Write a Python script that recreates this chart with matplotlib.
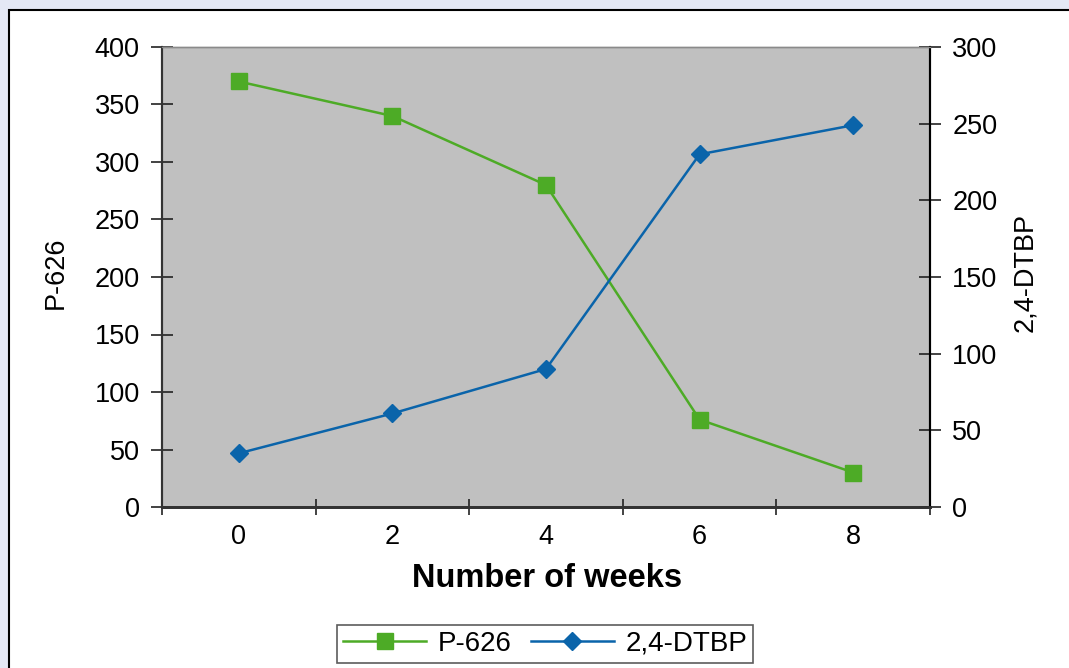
import numpy as np
import matplotlib.pyplot as plt
from matplotlib.patches import Rectangle

plt.rcParams['font.family'] = ['Liberation Sans', 'DejaVu Sans']

# datos
semanas = ['0', '2', '4', '6', '8']
p626 = [370, 340, 280, 76, 30]
dtbp = [35, 61, 90, 230, 249]

verde = '#4dab26'
azul = '#0a64aa'

fig = plt.figure(figsize=(10.69, 6.68), dpi=100, facecolor='#e4e8f5')

# marco blanco del grafico
marco = Rectangle((9 / 1069, -0.2), 1.2, 1.2 - 10 / 668, transform=fig.transFigure,
                  facecolor='white', edgecolor='black', lw=1.5, zorder=-10)
fig.patches.append(marco)

ax1 = fig.add_axes([162 / 1069, 1 - 507 / 668, 768 / 1069, 460 / 668])
ax2 = ax1.twinx()

x = np.arange(len(semanas))
ax1.plot(x, p626, color=verde, lw=1.8, marker='s', ms=11, label='P-626', clip_on=False)
ax2.plot(x, dtbp, color=azul, lw=1.8, marker='D', ms=9, label='2,4-DTBP', clip_on=False)

ax1.set_facecolor('#c0c0c0')
ax1.set_xlim(-0.5, 4.5)
ax1.set_ylim(0, 400)
ax2.set_ylim(0, 300)
ax1.set_yticks(range(0, 401, 50))
ax2.set_yticks(range(0, 301, 50))

ax1.set_xticks(x)
ax1.set_xticklabels(semanas)
ax1.set_xticks(np.arange(-0.5, 4.6, 1), minor=True)
ax1.tick_params(axis='x', which='major', length=0, pad=12, labelsize=19.5)
ax1.tick_params(axis='x', which='minor', length=12, width=1.2, direction='inout', color='#222222')
ax1.tick_params(axis='y', length=16, width=1.2, direction='inout', pad=8, labelsize=19.5, color='#222222')
ax2.tick_params(axis='y', length=16, width=1.2, direction='inout', pad=8, labelsize=19.5, color='#222222')

for ax in (ax1, ax2):
    ax.spines['top'].set_color('#8a8a8a')
    ax.spines['top'].set_linewidth(1)
    ax.spines['bottom'].set_color('#333333')
    ax.spines['bottom'].set_linewidth(2)
    ax.spines['left'].set_color('#333333')
    ax.spines['left'].set_linewidth(1.5)
    ax.spines['right'].set_color('black')
    ax.spines['right'].set_linewidth(1.5)

ax1.set_xlabel('Number of weeks', fontsize=23.5, fontweight='bold')
ax1.xaxis.set_label_coords(0.501, -0.122)
ax1.set_ylabel('P-626', fontsize=19.5)
ax1.yaxis.set_label_coords(-0.122, 0.51)
ax2.set_ylabel('2,4-DTBP', fontsize=19.5, rotation=90)
ax2.yaxis.set_label_coords(1.107, 0.51)

h1, l1 = ax1.get_legend_handles_labels()
h2, l2 = ax2.get_legend_handles_labels()
leg = fig.legend(h1 + h2, l1 + l2, loc='center', bbox_to_anchor=(545 / 1069, 1 - 644 / 668),
                 ncol=2, fontsize=20, frameon=True, fancybox=False, handlelength=3,
                 columnspacing=0.7, handletextpad=0.4, borderpad=0.2)
leg.get_frame().set_edgecolor('#333333')
leg.get_frame().set_linewidth(1.2)

fig.savefig('out.png', dpi=100, facecolor=fig.get_facecolor())
